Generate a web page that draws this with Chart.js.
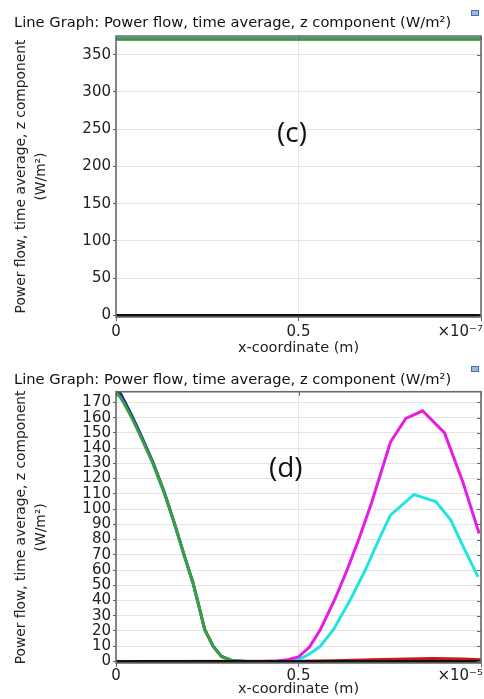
<!DOCTYPE html>
<html>
<head>
<meta charset="utf-8">
<script src="https://cdn.jsdelivr.net/npm/chart.js@4/dist/chart.umd.min.js"></script>
<style>
  html, body { margin: 0; padding: 0; background: #fff; overflow: hidden; width: 484px; height: 699px; }
  .panel { position: absolute; left: 0; width: 484px; }
  #p1 { top: 0; height: 358px; }
  #p2 { top: 356px; height: 343px; }
  canvas { display: block; }
</style>
</head>
<body>
<div class="panel" id="p1"><canvas id="c1" width="484" height="358"></canvas></div>
<div class="panel" id="p2"><canvas id="c2" width="484" height="343"></canvas></div>
<script>
// ---- shared text ----
const TITLE = 'Line Graph: Power flow, time average, z component (W/m²)';
const Y_TITLE = ['Power flow, time average, z component', '(W/m²)'];
const X_TITLE = 'x-coordinate (m)';
const X_TICKS = [0, 0.5, 1];

// ---- panel (c): x in units of 1e-7 m ----
const C_TAG = '(c)';
const C_EXP = '×10⁻⁷';
const C_Y_TICKS = [0, 50, 100, 150, 200, 250, 300, 350];
const C_X = [0, 1];
const C_GREEN = [371, 371];
const C_BLUE = [371, 371];
const C_RED = [0, 0];
const C_MAGENTA = [0, 0];
const C_CYAN = [0, 0];
const C_BLACK = [0, 0];

// ---- panel (d): x in units of 1e-5 m ----
const D_TAG = '(d)';
const D_EXP = '×10⁻⁵';
const D_Y_TICKS = [0, 10, 20, 30, 40, 50, 60, 70, 80, 90, 100, 110, 120, 130, 140, 150, 160, 170];
const D_X_GB = [0, 0.01, 0.023, 0.045, 0.064, 0.101, 0.133, 0.160, 0.185, 0.211, 0.227, 0.243, 0.266, 0.289, 0.32, 0.36, 0.5, 0.75, 1.0];
const D_GREEN = [176, 174, 169, 159, 149.5, 130, 110, 90.5, 71, 51.5, 36.5, 21, 10, 3.3, 0.4, 0, 0, 0, 0];
const D_BLUE = [177.5, 176.8, 171, 160.5, 150.8, 130.8, 110.5, 90.7, 71.1, 51.5, 36.5, 21, 10, 3.3, 0.4, 0, 0, 0, 0];
const D_X_M = [0, 0.40, 0.44, 0.47, 0.50, 0.53, 0.56, 0.60, 0.633, 0.665, 0.70, 0.752, 0.794, 0.84, 0.90, 0.95, 0.995];
const D_MAGENTA = [0, 0, 0.3, 1.2, 3, 9.5, 21, 41, 60, 80, 104, 144, 159.5, 164.5, 150, 118, 84];
const D_X_C = [0, 0.44, 0.477, 0.50, 0.518, 0.54, 0.56, 0.596, 0.642, 0.683, 0.72, 0.752, 0.816, 0.876, 0.917, 0.95, 0.992];
const D_CYAN = [0, 0, 0.2, 1.2, 3.3, 6.5, 10, 21, 40.5, 60, 80, 96, 109.5, 105, 93, 76, 55.5];
const D_X_R = [0, 0.5, 0.6, 0.7, 0.8, 0.87, 0.95, 1.0];
const D_RED = [0, 0.1, 0.5, 1.1, 1.7, 1.9, 1.6, 1.2];
const D_X_K = [0, 1];
const D_BLACK = [0, 0];

const COLORS = {
  green: '#38a040', blue: '#1b2a9c', magenta: '#e41ee4',
  cyan: '#22e4e4', red: '#c81818', black: '#111111'
};

const pts = (xs, ys) => xs.map((x, i) => ({ x, y: ys[i] }));
const line = (data, color) => ({
  data, borderColor: color, backgroundColor: color,
  borderWidth: 3, pointRadius: 0, tension: 0, fill: false
});

// frame box, inner ticks on top/right, exponent label, panel tag, window icon
const decor = {
  id: 'decor',
  afterDraw(chart, args, opts) {
    const { ctx, chartArea: a } = chart;
    const xs = chart.scales.x, ys = chart.scales.y;
    ctx.save();
    ctx.strokeStyle = '#666';
    ctx.lineWidth = 1;
    ys.ticks.forEach(t => {
      const py = Math.round(ys.getPixelForValue(t.value)) + 0.5;
      ctx.beginPath(); ctx.moveTo(a.right - 4, py); ctx.lineTo(a.right, py); ctx.stroke();
    });
    xs.ticks.forEach(t => {
      const px = Math.round(xs.getPixelForValue(t.value)) + 0.5;
      ctx.beginPath(); ctx.moveTo(px, a.top); ctx.lineTo(px, a.top + 4); ctx.stroke();
    });
    ctx.lineWidth = 1.6;
    ctx.strokeStyle = '#6a6a6a';
    ctx.strokeRect(a.left, a.top, a.right - a.left, a.bottom - a.top);

    // axis exponent
    ctx.fillStyle = '#222';
    ctx.font = '15px "DejaVu Sans"';
    ctx.textAlign = 'right';
    ctx.textBaseline = 'middle';
    const lab = xs.top + 4 + opts.labPad + 9;
    ctx.fillText(opts.exp, a.right + 2, lab);

    // panel tag
    ctx.font = '28px "Open Sans"';
    ctx.textAlign = 'center';
    ctx.fillStyle = '#111';
    ctx.fillText(opts.tag, a.left + opts.tx * (a.right - a.left), a.top + opts.ty * (a.bottom - a.top));

    // small window icon
    ctx.fillStyle = '#9db8dc';
    ctx.strokeStyle = '#4a6ea8';
    ctx.lineWidth = 1;
    ctx.fillRect(chart.width - 13, opts.iconY, 8, 6);
    ctx.strokeRect(chart.width - 12.5, opts.iconY + 0.5, 7, 5);
    ctx.restore();
  }
};

function makeChart(el, cfg) {
  return new Chart(el, {
    type: 'line',
    data: { datasets: cfg.datasets },
    plugins: [decor],
    options: {
      responsive: false,
      animation: false,
      layout: { padding: cfg.pad },
      plugins: {
        legend: { display: false },
        tooltip: { enabled: false },
        title: {
          display: true, text: TITLE, align: 'start', color: '#111',
          font: { family: 'DejaVu Sans', size: 14.7, weight: 'normal', lineHeight: 1.2 },
          padding: { top: 0, bottom: cfg.titleGap }
        },
        decor: cfg.decor
      },
      scales: {
        x: {
          type: 'linear', min: 0, max: 1,
          afterFit: s => { s.height = cfg.xH; },
          afterBuildTicks: s => { s.ticks = X_TICKS.map(v => ({ value: v })); },
          border: { display: false },
          grid: { color: '#e4e4e4', lineWidth: 1, tickLength: 4, tickColor: '#666' },
          ticks: {
            color: '#222', padding: cfg.decor.labPad, maxRotation: 0, autoSkip: false,
            font: { family: 'DejaVu Sans', size: 15, lineHeight: 1.2 },
            callback: v => (v === 1 ? '' : String(v))
          },
          title: {
            display: true, text: X_TITLE, color: '#222',
            font: { family: 'DejaVu Sans', size: 14.5, lineHeight: 1.2 },
            padding: { top: 0, bottom: cfg.xTitlePad }
          }
        },
        y: {
          type: 'linear', min: cfg.yMin, max: cfg.yMax,
          afterFit: s => { s.width = 102; },
          afterBuildTicks: s => { s.ticks = cfg.yTicks.map(v => ({ value: v })); },
          border: { display: false },
          grid: { color: '#e4e4e4', lineWidth: 1, tickLength: 3, tickColor: '#666' },
          ticks: {
            color: '#222', padding: 2, autoSkip: false,
            font: { family: 'DejaVu Sans', size: 15, lineHeight: 1.0 }
          },
          title: {
            display: true, text: Y_TITLE, color: '#222',
            font: { family: 'DejaVu Sans', size: 13.8, lineHeight: 1.45 },
            padding: { top: -2.5, bottom: 0 }
          }
        }
      }
    }
  });
}

// Panel (c)
makeChart(document.getElementById('c1'), {
  pad: { top: 14, left: 14, right: 3, bottom: 1 },
  titleGap: 4.4,
  xH: 40, xTitlePad: 0.3,
  yMin: -2, yMax: 375, yTicks: C_Y_TICKS,
  decor: { exp: C_EXP, tag: C_TAG, tx: 0.482, ty: 0.349, labPad: 2, iconY: 10 },
  datasets: [
    line(pts(C_X, C_BLACK), COLORS.black),
    line(pts(C_X, C_GREEN), COLORS.green),
    line(pts(C_X, C_BLUE), COLORS.blue),
    line(pts(C_X, C_MAGENTA), COLORS.magenta),
    line(pts(C_X, C_CYAN), COLORS.cyan),
    line(pts(C_X, C_RED), COLORS.red)
  ]
});

// Panel (d)
makeChart(document.getElementById('c2'), {
  pad: { top: 15.6, left: 14, right: 3, bottom: 0 },
  titleGap: 2.5,
  xH: 36, xTitlePad: 1.3,
  yMin: -1, yMax: 177, yTicks: D_Y_TICKS,
  decor: { exp: D_EXP, tag: D_TAG, tx: 0.465, ty: 0.285, labPad: 0, iconY: 10 },
  datasets: [
    line(pts(D_X_K, D_BLACK), COLORS.black),
    line(pts(D_X_GB, D_GREEN), COLORS.green),
    line(pts(D_X_GB, D_BLUE), COLORS.blue),
    line(pts(D_X_M, D_MAGENTA), COLORS.magenta),
    line(pts(D_X_C, D_CYAN), COLORS.cyan),
    line(pts(D_X_R, D_RED), COLORS.red)
  ]
});
</script>
</body>
</html>
